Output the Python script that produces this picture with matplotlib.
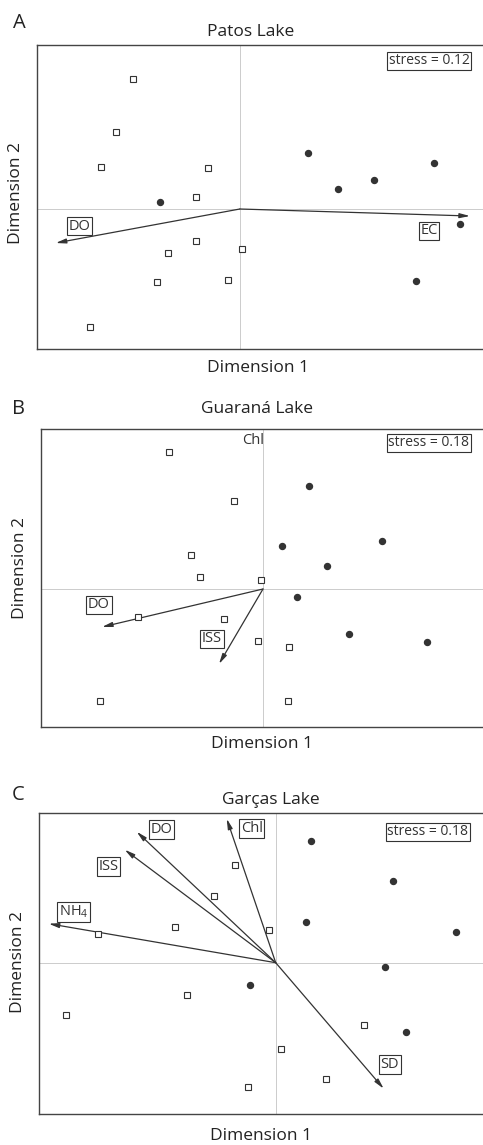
import matplotlib
matplotlib.use("Agg")
import matplotlib.pyplot as plt

plt.rcParams['font.family'] = ['Open Sans', 'DejaVu Sans']

# ---------------- data (NMDS scores) ----------------
# Panel A - Patos Lake
a_sq_x = [-1.07, -1.24, -1.39, -0.32, -0.44, -0.44, -0.72, 0.02, -0.83, -0.12, -1.50]
a_sq_y = [1.30, 0.77, 0.42, 0.41, 0.12, -0.32, -0.44, -0.40, -0.73, -0.71, -1.18]
a_ci_x = [-0.80, 0.68, 0.98, 1.34, 1.94, 2.20, 1.76]
a_ci_y = [0.07, 0.56, 0.20, 0.29, 0.46, -0.15, -0.72]
a_vec_names = ["DO", "EC"]
a_vec_x = [-1.84, 2.30]
a_vec_y = [-0.34, -0.07]
a_lab_x = [-1.60, 1.89]
a_lab_y = [-0.17, -0.22]
a_stress = "stress = 0.12"

# Panel B - Guaraná Lake
b_sq_x = [-0.94, -0.29, -0.72, -0.63, -0.02, -1.25, -0.39, -0.05, 0.26, -1.63, 0.25]
b_sq_y = [1.37, 0.88, 0.34, 0.12, 0.09, -0.28, -0.30, -0.52, -0.58, -1.12, -1.12]
b_ci_x = [0.46, 0.19, 1.19, 0.64, 0.34, 0.86, 1.64]
b_ci_y = [1.03, 0.43, 0.48, 0.23, -0.08, -0.45, -0.53]
b_vec_names = ["DO", "ISS"]
b_vec_x = [-1.61, -0.44]
b_vec_y = [-0.38, -0.75]
b_lab_x = [-1.64, -0.51]
b_lab_y = [-0.16, -0.50]
b_stress = "stress = 0.18"

# Panel C - Garças Lake
c_sq_x = [-0.41, -0.62, -1.01, -0.07, -1.78, -0.89, -2.10, 0.88, 0.05, 0.50, -0.28]
c_sq_y = [0.98, 0.67, 0.36, 0.33, 0.29, -0.32, -0.52, -0.62, -0.86, -1.16, -1.24]
c_ci_x = [0.35, 1.17, 0.30, 1.80, 1.09, -0.26, 1.30]
c_ci_y = [1.22, 0.82, 0.41, 0.31, -0.04, -0.22, -0.69]
c_vec_names = ["DO", "Chl", "ISS", r"NH$_\mathregular{4}$", "SD"]
c_vec_x = [-1.39, -0.49, -1.51, -2.27, 1.08]
c_vec_y = [1.31, 1.44, 1.13, 0.39, -1.26]
c_lab_x = [-1.14, -0.24, -1.67, -2.02, 1.14]
c_lab_y = [1.33, 1.34, 0.96, 0.51, -1.02]
c_stress = "stress = 0.18"

W, H = 483, 1145
fig = plt.figure(figsize=(W / 100, H / 100), dpi=100)

DARK = "#333333"
LAB_FS = 10.5
STRESS_FS = 10
BIG_FS = 12.5
LETTER_FS = 14.5


def add_ax(left, top, right, bottom):
    return fig.add_axes([left / W, 1 - bottom / H, (right - left) / W, (bottom - top) / H])


def panel(ax, xlim, ylim, sqx, sqy, cix, ciy, vx, vy, names, lx, ly, stress,
          stress_xy, extra=None):
    ax.set_xlim(*xlim)
    ax.set_ylim(*ylim)
    ax.axhline(0, color="#cccccc", lw=0.7, zorder=0)
    ax.axvline(0, color="#cccccc", lw=0.7, zorder=0)
    for x, y in zip(vx, vy):
        ax.annotate("", xy=(x, y), xytext=(0, 0),
                    arrowprops=dict(arrowstyle="-|>,head_length=0.6,head_width=0.14",
                                    color=DARK, lw=0.9, shrinkA=0, shrinkB=0))
    ax.plot(sqx, sqy, ls="none", marker="s", ms=4.5, mfc="white", mec=DARK, mew=0.8, zorder=3)
    ax.plot(cix, ciy, ls="none", marker="o", ms=4.3, mfc=DARK, mec=DARK, zorder=3)
    for t, x, y in zip(names, lx, ly):
        ax.text(x, y, t, ha="center", va="center", fontsize=LAB_FS, color=DARK,
                bbox=dict(boxstyle="square,pad=0.12", fc="white", ec=DARK, lw=0.8), zorder=4)
    ax.text(stress_xy[0], stress_xy[1], stress, ha="center", va="center", fontsize=STRESS_FS,
            color=DARK, bbox=dict(boxstyle="square,pad=0.1", fc="white", ec=DARK, lw=0.8))
    if extra:
        for t, x, y in extra:
            ax.text(x, y, t, ha="center", va="center", fontsize=LAB_FS, color=DARK)
    ax.set_xticks([])
    ax.set_yticks([])
    for s in ax.spines.values():
        s.set_color("#444444")
        s.set_linewidth(1.0)


def ftext(x, y, s, size, **kw):
    fig.text(x / W, 1 - y / H, s, fontsize=size, ha="center", va="center", color="#222222", **kw)


# Panel A
axA = add_ax(36.7, 45, 486, 349.3)
panel(axA, (-2.03, 2.46), (-1.403, 1.64), a_sq_x, a_sq_y, a_ci_x, a_ci_y,
      a_vec_x, a_vec_y, a_vec_names, a_lab_x, a_lab_y, a_stress, (1.89, 1.48))
ftext(19, 23, "A", LETTER_FS)
ftext(250.7, 32, "Patos Lake", BIG_FS)
ftext(257.7, 368, "Dimension 1", BIG_FS)
ftext(15.7, 193, "Dimension 2", BIG_FS, rotation=90)

# Panel B
axB = add_ax(41, 429, 486, 726.7)
panel(axB, (-2.22, 2.23), (-1.377, 1.60), b_sq_x, b_sq_y, b_ci_x, b_ci_y,
      b_vec_x, b_vec_y, b_vec_names, b_lab_x, b_lab_y, b_stress, (1.66, 1.46),
      extra=[("Chl", -0.10, 1.49)])
ftext(18.3, 409, "B", LETTER_FS)
ftext(256.7, 409, "Guaraná Lake", BIG_FS)
ftext(262.3, 743.5, "Dimension 1", BIG_FS)
ftext(20, 568, "Dimension 2", BIG_FS, rotation=90)

# Panel C
axC = add_ax(39.3, 813.3, 486, 1114)
panel(axC, (-2.364, 2.103), (-1.513, 1.494), c_sq_x, c_sq_y, c_ci_x, c_ci_y,
      c_vec_x, c_vec_y, c_vec_names, c_lab_x, c_lab_y, c_stress, (1.52, 1.31))
ftext(18.3, 795, "C", LETTER_FS)
ftext(270.7, 800, "Garças Lake", BIG_FS)
ftext(260.7, 1136.5, "Dimension 1", BIG_FS)
ftext(18.3, 961.7, "Dimension 2", BIG_FS, rotation=90)

fig.savefig("out.png", dpi=100)
